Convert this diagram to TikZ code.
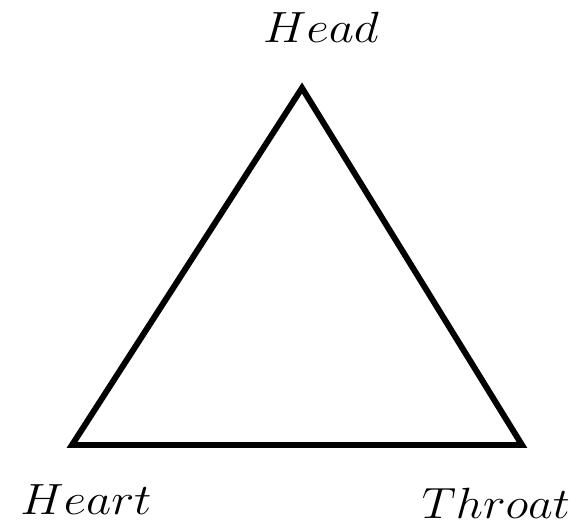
\documentclass[tikz,border=0pt]{standalone}
\usepackage{amsmath}
\usepackage{tikz}

\begin{document}
\begin{tikzpicture}[
    x=0.02cm, y=-0.02cm,
    lab/.style={inner sep=0pt, anchor=base, font=\fontsize{28}{32}\selectfont},
    side/.style={line width=3.4pt, line join=miter},
  ]
  \useasboundingbox (0,0) rectangle (587,527);

  %% ---- corners of the triangle -----------------------------------------
  \coordinate (head)   at (302,88);
  \coordinate (heart)  at (72,445);
  \coordinate (throat) at (522,445);

  \draw[side] (head) -- (throat) -- (heart) -- cycle;

  %% ---- labels ------------------------------------------------------------
  \node[lab] (headlab)   at (321,43)  {\scalebox{1.12}[1]{$Head$}};
  \node[lab] (heartlab)  at (86,514)  {\scalebox{1.12}[1]{$Heart$}};
  \node[lab] (throatlab) at (496,518) {\scalebox{1.1}[1]{$Throat$}};
\end{tikzpicture}
\end{document}
